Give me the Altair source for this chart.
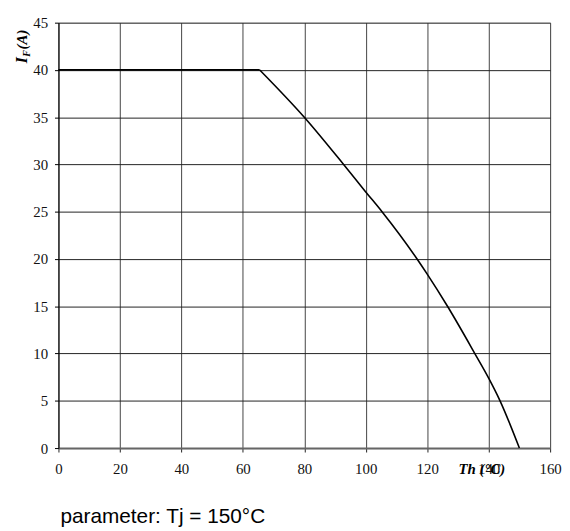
import altair as alt
import pandas as pd

# Data
temps = [0, 65.5, 80, 92.8, 100, 105.3, 116.7, 120, 126.6, 135.5, 140, 143.7, 150]
current = [40, 40, 35, 30, 27.1, 25, 20, 18.4, 15, 10, 7.4, 5, 0]
x_ticks = [0, 20, 40, 60, 80, 100, 120, 140, 160]
y_ticks = [0, 5, 10, 15, 20, 25, 30, 35, 40, 45]

df = pd.DataFrame({"T": temps, "I": current})
flat = df[df["T"] <= 65.5]
curve = df[df["T"] >= 65.5]

W, H = 497, 430
serif = "Liberation Serif"

xenc = alt.X("T:Q",
             scale=alt.Scale(domain=[0, 160], nice=False, zero=False),
             axis=alt.Axis(values=x_ticks, title=None, grid=True, gridColor="#444",
                           gridWidth=1, domainColor="#666", domainWidth=2,
                           tickColor="#222", tickSize=4, labelFont=serif,
                           labelFontSize=15, labelColor="#111",
                           labelBaseline="middle", labelPadding=17,
                           labelFlush=False))
yenc = alt.Y("I:Q",
             scale=alt.Scale(domain=[0, 45], nice=False),
             axis=alt.Axis(values=y_ticks, title=None, grid=True, gridColor="#222",
                           gridWidth=1, domainColor="#000", domainWidth=1,
                           tickColor="#000", tickSize=4, labelFont=serif,
                           labelFontSize=15, labelColor="#111",
                           labelPadding=7, labelFlush=False))

line_flat = alt.Chart(flat).mark_line(color="black", strokeWidth=1.8).encode(x=xenc, y=yenc)
line_curve = alt.Chart(curve).mark_line(color="black", strokeWidth=1.6,
                                        interpolate="monotone").encode(x="T:Q", y="I:Q")

def txt(s, x, y, size, font=serif, weight="bold", style="italic", angle=0,
        align="center", baseline="middle"):
    kw = dict(text=s, fontSize=size, font=font, fontWeight=weight,
              align=align, baseline=baseline, color="black")
    if style:
        kw["fontStyle"] = style
    if angle:
        kw["angle"] = angle
    return alt.Chart(pd.DataFrame({"a": [0]})).mark_text(**kw).encode(
        x=alt.value(x), y=alt.value(y))

y_title_I = txt("I", -37, 38, 16, angle=270)
y_title_F = txt("F", -32, 31, 10, angle=270)
y_title_A = txt("(A)", -37, 17, 15, angle=270)
x_title = txt("Th (°C)", 428, 451, 15)
footer = txt("parameter: Tj = 150°C", 2, 505.5, 21, font="Liberation Sans",
             weight="normal", style=None, align="left", baseline="alphabetic")

chart = alt.layer(line_flat, line_curve, y_title_I, y_title_F, y_title_A,
                  x_title, footer).properties(
    width=W, height=H,
    autosize=alt.AutoSizeParams(type="none"),
    padding={"left": 51, "top": 12, "right": 12, "bottom": 80},
).configure_view(stroke="#333", strokeWidth=1).configure(background="white")

chart.save("out.html", embed_options={"renderer": "svg", "actions": False})
